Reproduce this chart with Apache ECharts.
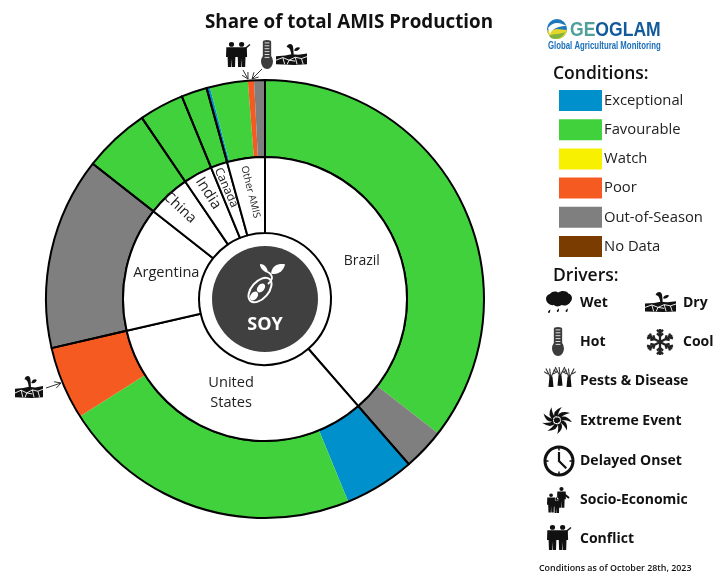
<!DOCTYPE html>
<html><head><meta charset="utf-8">
<style>html,body{margin:0;padding:0;background:#fff;overflow:hidden}#c{width:722px;height:572px}</style>
<script src="https://cdn.jsdelivr.net/npm/echarts@6/dist/echarts.min.js"></script>
</head><body><div id="c"></div>
<script>
const countries = ['Brazil','United\nStates','Argentina','China','India','Canada','Other AMIS'];
const countryShares = [38.6,32.8,14.2,4.9,3.3,1.9,4.3];
const conditionNames = ['Exceptional','Favourable','Watch','Poor','Out-of-Season','No Data'];
const conditionColors = ['#0090cc','#41d13c','#f7f000','#f55a21','#7f7f7f','#7a3c00'];
const segmentConditions = ['Favourable','Out-of-Season','Exceptional','Favourable','Poor','Out-of-Season','Favourable','Favourable','Favourable','Exceptional','Favourable','Poor','Out-of-Season','Watch','No Data'];
const segmentShares = [35.5,3.1,5.2,22.2,5.4,14.2,4.9,3.3,1.9,0.25,2.8,0.45,0.8,0,0];
const driverLabels = ['Wet','Dry','Hot','Cool','Pests & Disease','Extreme Event','Delayed Onset','Socio-Economic','Conflict'];

const FONT = '"Open Sans", sans-serif';
const CX = 265, CY = 299;
const colorOf = n => conditionColors[conditionNames.indexOf(n)];

const labelRadius = [101,97,99,122,117,115,105];
const labelRotate = [0,0,0,-43,-57,-66,-76];
const labelSize = [14,14.6,14.6,14.5,15,12,10];
const labelAngleShift = [-1,1.8,2.1,0,0,-0.3,0];

const series = [
  {type:'pie',silent:true,center:[CX,CY],radius:[142,219],startAngle:90,clockwise:true,label:{show:false},labelLine:{show:false},
   data:segmentShares.map((v,i)=>({name:segmentConditions[i],value:v,itemStyle:{color:colorOf(segmentConditions[i]),borderWidth:0}}))},
  {type:'pie',silent:true,center:[CX,CY],radius:[142,219],startAngle:90,label:{show:false},labelLine:{show:false},
   data:countryShares.map((v,i)=>({name:'o'+i,value:v,itemStyle:{color:'rgba(0,0,0,0)',borderColor:'#000',borderWidth:2}}))},
  {type:'pie',silent:true,center:[CX,CY],radius:[66,142],startAngle:90,label:{show:false},labelLine:{show:false},
   data:countryShares.map((v,i)=>({name:'i'+i,value:v,itemStyle:{color:'#fff',borderColor:'#000',borderWidth:2}}))},
  {type:'pie',silent:true,center:[CX,CY],radius:[0,53],label:{show:false},labelLine:{show:false},
   data:[{name:'SOY',value:1,itemStyle:{color:'#404040',borderWidth:0}}]}
];
countries.forEach((c,k)=>{
  series.push({type:'pie',silent:true,center:[CX,CY],radius:[labelRadius[k]-1,labelRadius[k]+1],startAngle:90-labelAngleShift[k],
    avoidLabelOverlap:false,minShowLabelAngle:0,labelLine:{show:false},labelLayout:{hideOverlap:false},
    data:countryShares.map((v,i)=>({name:'l'+k+'_'+i,value:v,itemStyle:{color:'rgba(0,0,0,0)',borderWidth:0},
      label:{show:i===k,position:'inside',formatter:c,rotate:labelRotate[k],fontFamily:FONT,fontSize:labelSize[k],color:'#222',lineHeight:20,align:'center'}}))});
});

// ---- decorative icons ----
const circ=(x,y,r)=>`M${x-r} ${y}A${r} ${r} 0 1 0 ${x+r} ${y}A${r} ${r} 0 1 0 ${x-r} ${y}Z`;
const P=(d,x0,y0,x1,y1,style)=>({type:'path',silent:true,shape:{pathData:d,x:x0,y:y0,width:x1-x0,height:y1-y0,layout:'cover'},style:style||{fill:'#111'}});
const T=(text,x,y,size,weight,color,align,fam)=>({type:'text',silent:true,x,y,style:{text,fontFamily:fam||FONT,fontSize:size,fontWeight:weight,fill:color||'#111',align:align||'left',verticalAlign:'middle'}});

function dry(x0,y0,x1,y1){
  const w=x1-x0,h=y1-y0,X=a=>x0+a*w/100,Y=a=>y0+a*h/70;
  return [
   P('M50 38C47 22 44 15 34 14C38 2 54 2 55 14C56 20 57 30 57 38ZM58 24C62 14 72 12 78 16C74 24 66 27 58 24Z',X(34),Y(0),X(78),Y(38)),
   P('M0 42L30 40L50 36L72 38L100 34L100 68L60 70L0 68Z',X(0),Y(32),X(100),Y(70)),
   P('M0 55L22 47L42 55L62 46L82 50L100 44M22 47L28 68M42 55L36 68M62 46L68 68M82 50L88 68M42 55L62 58',X(0),Y(42),X(100),Y(68),{fill:'none',stroke:'#fff',lineWidth:0.9})
  ];
}
function hot(x0,y0,x1,y1){
  const w=x1-x0,h=y1-y0,Y=a=>y0+a*h/100;
  const cx=(x0+x1)/2;
  return [
   P(`M25 8A25 8 0 0 1 75 8L75 68A36 32 0 1 1 25 68Z`,x0,y0,x1,y1,{fill:'#3c3c3c'}),
   P('M0 0L10 0M0 6L10 6M0 12L10 12M0 18L10 18M0 24L10 24M0 30L10 30',cx-w*0.2,Y(10),cx+w*0.2,Y(60),{fill:'none',stroke:'#ddd',lineWidth:1})
  ];
}
function person(cx,top,s){
  return circ(cx,top+4*s,4*s)+`M${cx-8*s} ${top+9*s}L${cx+8*s} ${top+9*s}L${cx+8.5*s} ${top+25*s}L${cx+6*s} ${top+25*s}L${cx+5.5*s} ${top+42*s}L${cx+0.5*s} ${top+42*s}L${cx} ${top+28*s}L${cx-0.5*s} ${top+42*s}L${cx-5.5*s} ${top+42*s}L${cx-6*s} ${top+25*s}L${cx-8.5*s} ${top+25*s}Z`;
}
function conflict(x0,y0,x1,y1){
  const w=x1-x0,h=y1-y0,s=h/42;
  return [
   P(person(x0+w*0.27,y0,s)+person(x0+w*0.66,y0,s),x0,y0,x0+w*0.88,y1),
   P(`M${x0+w*0.75} ${y0+h*0.3}L${x1} ${y0+h*0.1}`,x0+w*0.75,y0+h*0.1,x1,y0+h*0.3,{fill:'none',stroke:'#111',lineWidth:1.4})
  ];
}
function wet(x0,y0,x1,y1){
  const w=x1-x0,h=y1-y0,X=a=>x0+a*w/100,Y=a=>y0+a*h/100;
  const cloud='M15 10C25 -2 40 0 48 5C58 -3 78 -2 85 8C100 12 103 28 92 38C85 48 70 52 60 48C50 54 38 54 30 48C18 50 3 42 1 28C0 20 6 12 15 10Z';
  const drop=(x,y)=>`M${x+8} ${y}L${x+7} ${y+8}C${x+5} ${y+13} ${x-3} ${y+12} ${x} ${y+6}Z`;
  return [P(cloud,X(0),Y(0),X(100),Y(70)),P(drop(8,0)+drop(42,-3)+drop(76,-3),X(8),Y(78),X(84),Y(100))];
}
function cool(x0,y0,x1,y1){
  const cx=(x0+x1)/2,cy=(y0+y1)/2,R=(x1-x0)/2;let d='';
  for(let k=0;k<6;k++){const a=k*Math.PI/3+Math.PI/6,c=Math.cos(a),s=Math.sin(a);
    d+=`M${cx} ${cy}L${cx+R*c} ${cy+R*s}`;
    [0.45,0.72].forEach(t=>{const px=cx+R*t*c,py=cy+R*t*s;
      [0.8,-0.8].forEach(o=>{d+=`M${px} ${py}L${px+R*0.3*Math.cos(a+o)} ${py+R*0.3*Math.sin(a+o)}`;});});}
  return [P(d,x0,y0,x1,y1,{fill:'none',stroke:'#222',lineWidth:2.3})];
}
function pests(x0,y0,x1,y1){
  const w=x1-x0,h=y1-y0,tree=(o,t)=>`M${o} ${t+24}L${o} ${t+9}M${o} ${t+12}L${o-5} ${t}M${o} ${t+12}L${o+5} ${t}M${o} ${t+10}L${o-1} ${t}M${o-3} ${t+7}L${o-7} ${t+4}M${o+3} ${t+7}L${o+7} ${t+4}`;
  return [
   P(tree(7,2)+tree(17,0)+tree(27,2),x0,y0,x1,y1-3,{fill:'none',stroke:'#333',lineWidth:1.1}),
   P(`M7 10L10 10L11 26L6 26ZM16 8L19 8L20 24L15 24ZM25 10L28 10L29 26L24 26Z`,x0+w*0.14,y0+h*0.36,x0+w*0.86,y1-3,{fill:'#111'})
  ];
}
function extreme(x0,y0,x1,y1){
  const cx=(x0+x1)/2,cy=(y0+y1)/2,R=(x1-x0)/2,ry=(y1-y0)/2;let d='';
  const pt=(r,a)=>`${(cx+r*R*Math.cos(a)).toFixed(1)} ${(cy+r*ry*Math.sin(a)).toFixed(1)}`;
  for(let k=0;k<9;k++){const a=k*2*Math.PI/9;
    d+=`M${pt(0.22,a-0.15)}Q${pt(0.75,a+0.05)} ${pt(1,a+0.85)}Q${pt(0.55,a+0.62)} ${pt(0.22,a+0.7)}Z`;}
  return [P(d+circ(cx,cy,R*0.26),x0,y0,x1,y1)];
}
function clock(x0,y0,x1,y1){
  const cx=(x0+x1)/2,cy=(y0+y1)/2,R=(x1-x0)/2-1.5;
  return [
   {type:'circle',silent:true,shape:{cx,cy,r:R-0.5},style:{fill:'#fff',stroke:'#111',lineWidth:3}},
   {type:'polyline',silent:true,shape:{points:[[cx,cy-R*0.62],[cx,cy],[cx+R*0.5,cy+R*0.5]]},style:{fill:'none',stroke:'#111',lineWidth:2.2}},
   {type:'line',silent:true,shape:{x1:cx,y1:cy-R,x2:cx,y2:cy-R+4},style:{stroke:'#111',lineWidth:1.5}},
   {type:'line',silent:true,shape:{x1:cx,y1:cy+R,x2:cx,y2:cy+R-4},style:{stroke:'#111',lineWidth:1.5}},
   {type:'line',silent:true,shape:{x1:cx-R,y1:cy,x2:cx-R+4,y2:cy},style:{stroke:'#111',lineWidth:1.5}},
   {type:'line',silent:true,shape:{x1:cx+R,y1:cy,x2:cx+R-4,y2:cy},style:{stroke:'#111',lineWidth:1.5}}
  ];
}
function socio(x0,y0,x1,y1){
  const w=x1-x0,h=y1-y0,s1=h/50;
  return [P(person(x0+w*0.6,y0,s1*0.85)+person(x0+w*0.2,y0+h*0.22,s1*0.78)+person(x0+w*0.42,y0+h*0.35,s1*0.65),x0,y0,x0+w*0.86,y1),
    P(`M${x0+w*0.7} ${y0+h*0.22}L${x1} ${y0+h*0.42}`,x0+w*0.7,y0+h*0.22,x1,y0+h*0.42,{fill:'none',stroke:'#111',lineWidth:2})];
}
const arrow=(x0,y0,x1,y1)=>{
  const a=Math.atan2(y1-y0,x1-x0),L=7;
  const hd=o=>[x1-L*Math.cos(a+o),y1-L*Math.sin(a+o)];
  return [{type:'polyline',silent:true,shape:{points:[[x0,y0],[x1,y1]]},style:{fill:'none',stroke:'#333',lineWidth:1}},
          {type:'polyline',silent:true,shape:{points:[hd(0.5),[x1,y1],hd(-0.5)]},style:{fill:'none',stroke:'#333',lineWidth:1}}];
};
function soy(){
  return [
   {type:'ellipse',silent:true,x:260,y:290,rotation:0.85,shape:{cx:0,cy:0,rx:14.5,ry:8.5},style:{fill:'none',stroke:'#fff',lineWidth:2}},
   {type:'ellipse',silent:true,x:254,y:296,rotation:0.85,shape:{cx:0,cy:0,rx:5,ry:3.4},style:{fill:'#fff'}},
   {type:'ellipse',silent:true,x:261,y:288,rotation:0.85,shape:{cx:0,cy:0,rx:5,ry:3.4},style:{fill:'#fff'}},
   P('M270 284C271 279 271 276 270 272',268,272,272,284,{fill:'none',stroke:'#fff',lineWidth:1.8}),
   P('M271 273C272 265 280 264 285 265C284 271 277 275 271 273Z',271,264,285,274,{fill:'#fff'}),
   P('M268 273C262 271 260 267 260 264C265 264 268 269 268 273Z',260,264,268,273,{fill:'#fff'})
  ];
}
const logo=[
  {type:'circle',silent:true,shape:{cx:557,cy:29,r:10},style:{fill:'#1f78b8'}},
  {type:'sector',silent:true,shape:{cx:557,cy:29,r:10,r0:0,startAngle:0.1,endAngle:3.0},style:{fill:'#e6d62a'}},
  P('M547 29C552 22 560 24 566 27C560 27 552 28 549 34Z',548,23,567,34,{fill:'#fff'}),
  P('M549 35C553 33 561 34 565 32C563 37 553 40 549 35Z',549,32,565,39,{fill:'#7fb241'}),
  {type:'text',silent:true,x:570,y:31,scaleX:0.9,style:{rich:{a:{fontFamily:'Liberation Sans',fontWeight:'bold',fontSize:19.5,fill:'#4f9f9a'},b:{fontFamily:'Liberation Sans',fontWeight:'bold',fontSize:19.5,fill:'#125a9c'}},text:'{a|GE}{b|OGLAM}',verticalAlign:'middle'}},
  {type:'text',silent:true,x:548,y:46,scaleX:0.78,style:{text:'Global Agricultural Monitoring',fontFamily:'Liberation Sans',fontWeight:'bold',fontSize:10,fill:'#1b6fb8',verticalAlign:'middle'}}
];

const driverPos=[[580,303],[683,303],[580,342],[683,342],[580,381.5],[580,421],[580,461],[580,500.5],[580,539]];
const decorations=[].concat(
  logo,
  [T('Conditions:',553,74,17.5,600),T('Drivers:',553,276,17.5,600)],
  driverLabels.map((t,i)=>T(t,driverPos[i][0],driverPos[i][1],14,700)),
  wet(546,291,572,313),dry(645,292,676,312),hot(552,327,564,356),cool(647,329,673,355),
  pests(544,367,576,390),extreme(542,407,572,434),clock(543,447,575,475),socio(547,487,569,513),conflict(547,525,571,550),
  conflict(226,42,250,67),hot(261,40,273,69),dry(276,44,307,65),dry(15,376,43,398),
  arrow(243,70,248,79),arrow(262,69,252,79),arrow(46,388,61,383),
  soy(),
  [T('SOY',265,325,18,700,'#fff','center'),
   T('Conditions as of October 28th, 2023',539,568.5,8.9,600,'#111')]
);
series.push({type:'custom',coordinateSystem:'none',silent:true,z:20,data:[0],renderItem:()=>({type:'group',children:decorations})});

const chart=echarts.init(document.getElementById('c'),null,{renderer:'canvas'});
chart.setOption({
  animation:false,
  title:{text:'Share of total AMIS Production',left:344,top:8,textAlign:'center',textStyle:{fontFamily:FONT,fontSize:18.8,fontWeight:700,color:'#111'}},
  legend:{orient:'vertical',left:559,top:90,padding:0,itemWidth:43,itemHeight:21,itemGap:8.2,selectedMode:false,icon:'rect',
    data:conditionNames,itemStyle:{borderWidth:0},textStyle:{fontFamily:FONT,fontSize:14.8,color:'#222',padding:[0,0,0,-3]}},
  series
});
</script></body></html>
